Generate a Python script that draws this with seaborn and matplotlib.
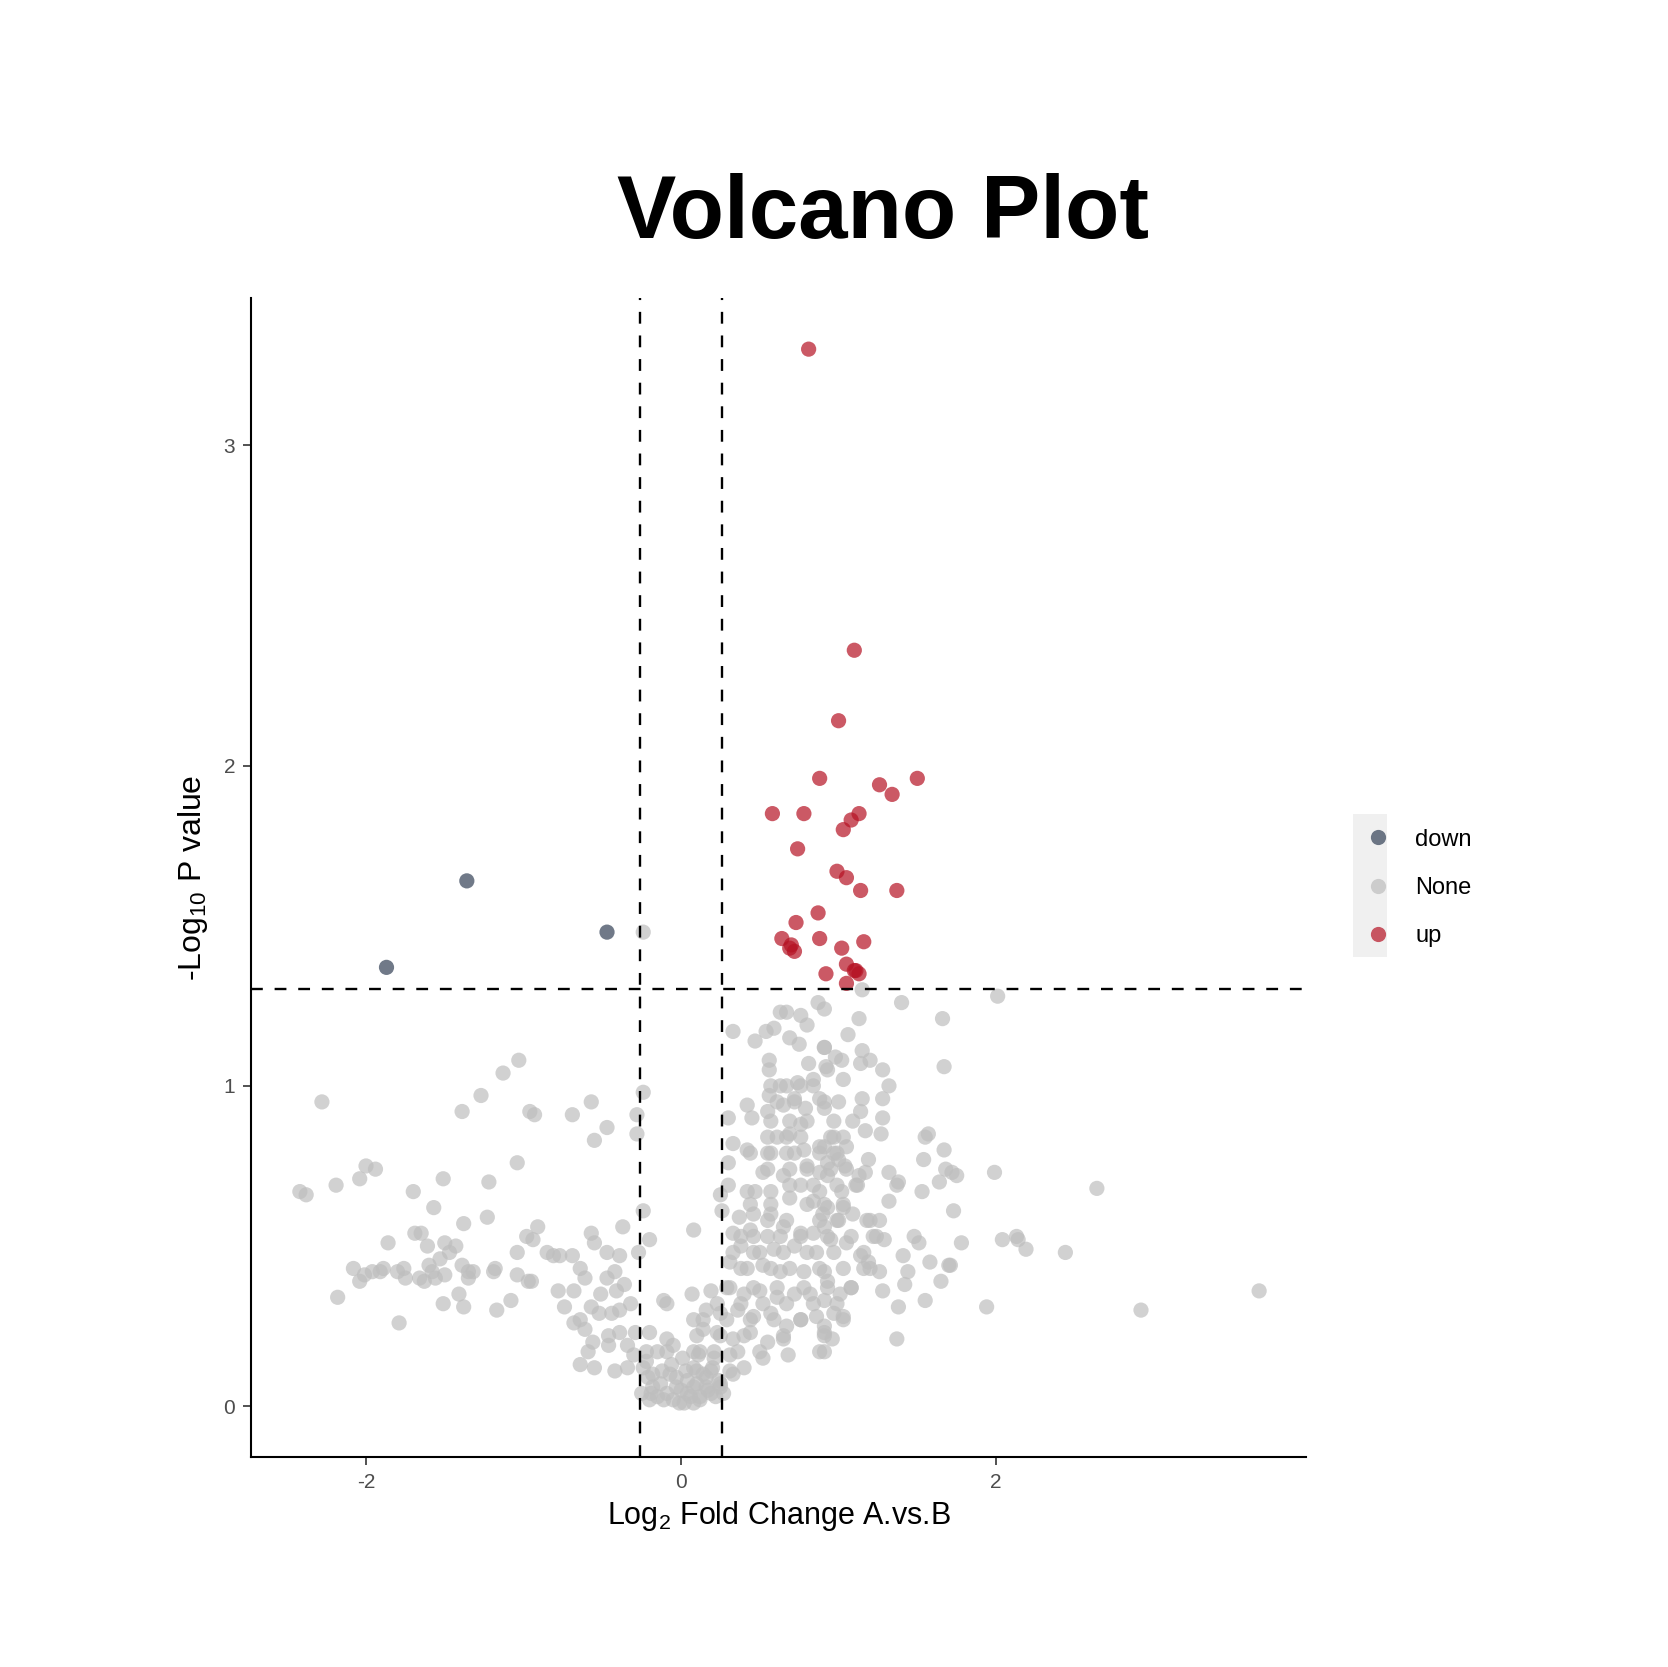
import matplotlib
matplotlib.use("Agg")
import matplotlib.pyplot as plt
import seaborn as sns
import pandas as pd
from matplotlib.patches import Rectangle

# ---------------------------------------------------------------
# Datos (log2 fold change, -log10 p)
# ---------------------------------------------------------------
up_fc = [0.81, 1.10, 1.00, 0.88, 1.26, 1.34, 1.50, 0.58, 0.78, 1.13, 1.08, 1.03,
         0.74, 0.99, 1.05, 1.14, 1.37, 0.87, 0.73, 0.64, 0.70, 0.72, 0.69, 0.88,
         1.02, 1.16, 1.05, 0.92, 1.10, 1.13, 1.11, 1.05]
up_p = [3.30, 2.36, 2.14, 1.96, 1.94, 1.91, 1.96, 1.85, 1.85, 1.85, 1.83, 1.80,
        1.74, 1.67, 1.65, 1.61, 1.61, 1.54, 1.51, 1.46, 1.44, 1.42, 1.43, 1.46,
        1.43, 1.45, 1.38, 1.35, 1.36, 1.35, 1.36, 1.32]

down_fc = [-1.87, -1.36, -0.47]
down_p = [1.37, 1.64, 1.48]

# brazo izquierdo
left_fc = [-2.28, -1.03, -1.13, -1.27, -1.39, -2.00, -1.94, -2.04, -2.19, -2.42,
           -2.38, -1.70, -1.51, -1.22, -1.04, -1.57, -1.38, -1.23, -1.69, -1.65,
           -1.86, -1.61, -1.50, -1.43, -1.53, -1.47, -2.08, -2.04, -2.01, -1.96,
           -1.91, -1.89, -1.80, -1.76, -1.75, -1.66, -1.63, -1.60, -1.58, -1.56,
           -1.50, -1.39, -1.35, -1.32, -1.35, -1.18, -1.19, -1.04, -1.04, -0.98,
           -0.97, -2.18, -1.51, -1.41, -1.38, -1.17, -1.08, -1.79, -0.96]
left_p = [0.95, 1.08, 1.04, 0.97, 0.92, 0.75, 0.74, 0.71, 0.69, 0.67,
          0.66, 0.67, 0.71, 0.70, 0.76, 0.62, 0.57, 0.59, 0.54, 0.54,
          0.51, 0.50, 0.51, 0.50, 0.46, 0.48, 0.43, 0.39, 0.41, 0.42,
          0.42, 0.43, 0.42, 0.43, 0.40, 0.40, 0.39, 0.44, 0.42, 0.40,
          0.41, 0.44, 0.42, 0.42, 0.40, 0.43, 0.42, 0.41, 0.48, 0.53,
          0.39, 0.34, 0.32, 0.35, 0.31, 0.30, 0.33, 0.26, 0.92]

# zona cercana a cero (izquierda)
mid_fc = [-0.24, -0.93, -0.69, -0.57, -0.47, -0.55, -0.28, -0.28, -0.24, -0.91,
          -0.94, -0.57, -0.55, -0.37, -0.20, -0.27, -0.47, -0.39, -0.85, -0.81,
          -0.77, -0.69, -0.95, -0.64, -0.61, -0.47, -0.42, -0.36, -0.78, -0.68,
          -0.51, -0.41, -0.74, -0.57, -0.52, -0.44, -0.39, -0.32, -0.68, -0.64,
          -0.61, -0.56, -0.46, -0.46, -0.39, -0.34, -0.29, -0.30, -0.59, -0.64,
          -0.55, -0.42, -0.34, -0.11, -0.09, 0.07, 0.08, 0.08, -0.20, -0.09,
          -0.05, -0.22, -0.24, -0.25, -0.24,
          -0.18, -0.13, -0.09, -0.05, -0.01, 0.02, 0.06, 0.10, 0.04, -0.03,
          -0.18, -0.21, -0.07, 0.08, -0.15, -0.11, -0.19, 0.08, -0.03, 0.04,
          -0.09]
mid_p = [0.98, 0.91, 0.91, 0.95, 0.87, 0.83, 0.91, 0.85, 0.61, 0.56,
         0.52, 0.54, 0.51, 0.56, 0.52, 0.48, 0.48, 0.47, 0.48, 0.47,
         0.47, 0.47, 0.39, 0.43, 0.40, 0.40, 0.42, 0.38, 0.36, 0.36,
         0.35, 0.36, 0.31, 0.31, 0.29, 0.29, 0.30, 0.32, 0.26, 0.27,
         0.24, 0.20, 0.22, 0.19, 0.23, 0.19, 0.23, 0.16, 0.17, 0.13,
         0.12, 0.11, 0.12, 0.33, 0.32, 0.35, 0.55, 0.27, 0.23, 0.21,
         0.19, 0.17, 0.12, 0.04, 1.48,
         0.10, 0.07, 0.04, 0.02, 0.01, 0.01, 0.03, 0.07, 0.08, 0.06,
         0.06, 0.09, 0.10, 0.12, 0.17, 0.02, 0.04, 0.01, 0.09, 0.04,
         0.17]

# fondo del embudo (alrededor de 0)
base_fc = [-0.20, -0.15, -0.12, 0.00, 0.03, 0.12, 0.14, 0.17, 0.20, 0.22,
           0.24, -0.06, 0.01, 0.11, -0.22]
base_p = [0.02, 0.03, 0.11, 0.05, 0.11, 0.03, 0.10, 0.05, 0.12, 0.03,
          0.08, 0.13, 0.15, 0.16, 0.14]

# nucleo (0.1 a 0.95)
core_fc = [0.33, 0.47, 0.54, 0.59, 0.63, 0.67, 0.76, 0.80, 0.87, 0.69,
           0.75, 0.56, 0.56, 0.81, 0.91, 0.92, 0.63, 0.74, 0.84, 0.56,
           0.42, 0.45, 0.55, 0.65, 0.72, 0.79, 0.88, 0.30, 0.33, 0.42,
           0.30, 0.55, 0.61, 0.69, 0.76, 0.67, 0.78, 0.52, 0.65, 0.80,
           0.88, 0.93, 0.30, 0.42, 0.47, 0.57, 0.25, 0.26, 0.37, 0.46,
           0.57, 0.69, 0.76, 0.84, 0.90, 0.33, 0.44, 0.55, 0.65, 0.76,
           0.84, 0.38, 0.46, 0.59, 0.72, 0.78, 0.31, 0.42, 0.52, 0.63,
           0.86, 0.91, 0.19, 0.29, 0.40, 0.50, 0.61, 0.72, 0.82, 0.16,
           0.25, 0.36, 0.46, 0.57, 0.67, 0.76, 0.86, 0.91, 0.14, 0.23,
           0.33, 0.44, 0.55, 0.65, 0.68, 0.52, 0.88, 0.12, 0.21, 0.31,
           0.40, 0.16, 0.25, 0.33, 0.19, 0.27, 0.12]
core_p = [1.17, 1.14, 1.17, 1.18, 1.23, 1.23, 1.22, 1.19, 1.26, 1.15,
          1.13, 1.08, 1.05, 1.07, 1.12, 1.06, 1.00, 1.01, 1.02, 0.97,
          0.94, 0.90, 0.92, 0.94, 0.96, 0.93, 0.96, 0.90, 0.82, 0.80,
          0.76, 0.79, 0.84, 0.85, 0.88, 0.79, 0.80, 0.73, 0.72, 0.75,
          0.81, 0.72, 0.69, 0.67, 0.67, 0.67, 0.66, 0.61, 0.59, 0.60,
          0.60, 0.65, 0.69, 0.64, 0.60, 0.54, 0.55, 0.53, 0.56, 0.54,
          0.54, 0.50, 0.48, 0.49, 0.50, 0.42, 0.45, 0.43, 0.44, 0.42,
          0.48, 0.42, 0.36, 0.37, 0.35, 0.36, 0.34, 0.35, 0.35, 0.30,
          0.29, 0.30, 0.28, 0.29, 0.25, 0.27, 0.28, 0.23, 0.24, 0.23,
          0.21, 0.23, 0.20, 0.21, 0.16, 0.15, 0.17, 0.17, 0.15, 0.16,
          0.12, 0.09, 0.07, 0.10, 0.04, 0.04, 0.02]

# banda densa del nucleo
band_fc = [0.57, 0.67, 0.76, 0.84,
           0.61, 0.72, 0.91,
           0.57, 0.69, 0.80, 0.97,
           0.55, 0.67, 0.76, 0.95, 1.03,
           0.44, 0.57, 0.72, 0.88, 0.99,
           0.55, 0.69, 0.80, 0.95, 1.05,
           0.69, 0.84, 0.99, 1.12,
           0.44, 0.57, 0.80, 0.91, 1.03,
           0.55, 0.67, 0.88, 0.99, 1.18,
           0.38, 0.46, 0.63, 0.76, 0.93, 1.08, 1.24,
           0.33, 0.50, 0.65, 0.80, 0.97, 1.16,
           0.38, 0.57, 0.69, 0.88, 1.03, 1.20,
           0.31, 0.46, 0.61, 0.78, 0.93, 1.08,
           0.23, 0.38, 0.52, 0.67, 0.84, 0.99,
           0.14, 0.29, 0.44, 0.59, 0.76, 1.03,
           0.10, 0.25, 0.40, 0.65, 0.91,
           0.08, 0.21, 0.36, 0.50,
           0.10, 0.19, 0.31,
           0.08, 0.16, 0.25]
band_p = [1.00, 1.00, 1.00, 1.00,
          0.95, 0.95, 0.95,
          0.89, 0.89, 0.89, 0.89,
          0.84, 0.84, 0.84, 0.84, 0.84,
          0.79, 0.79, 0.79, 0.79, 0.79,
          0.74, 0.74, 0.74, 0.74, 0.74,
          0.69, 0.69, 0.69, 0.69,
          0.63, 0.63, 0.63, 0.63, 0.63,
          0.58, 0.58, 0.58, 0.58, 0.58,
          0.53, 0.53, 0.53, 0.53, 0.53, 0.53, 0.53,
          0.48, 0.48, 0.48, 0.48, 0.48, 0.48,
          0.43, 0.43, 0.43, 0.43, 0.43, 0.43,
          0.37, 0.37, 0.37, 0.37, 0.37, 0.37,
          0.32, 0.32, 0.32, 0.32, 0.32, 0.32,
          0.27, 0.27, 0.27, 0.27, 0.27, 0.27,
          0.22, 0.22, 0.22, 0.22, 0.22,
          0.17, 0.17, 0.17, 0.17,
          0.11, 0.11, 0.11,
          0.06, 0.06, 0.06]

# hombro derecho (0.9 a 1.7)
right_fc = [1.15, 1.40, 1.66, 1.13, 1.06, 0.91, 0.91, 0.98, 1.02, 1.15,
            1.20, 1.14, 1.28, 0.93, 1.03, 1.67, 1.32, 1.15, 1.28, 1.00,
            0.91, 1.14, 1.09, 1.28, 1.17, 1.27, 1.57, 1.55, 0.97, 1.05,
            0.91, 1.00, 1.19, 1.54, 1.67, 1.68, 1.64, 0.93, 1.17, 1.13,
            1.32, 1.38, 1.37, 1.53, 1.02, 1.11, 0.88, 1.32, 0.93, 1.03,
            1.09, 1.20, 1.26, 1.00, 0.91, 1.22, 1.29, 1.48, 1.51, 0.95,
            1.05, 1.41, 1.58, 1.70, 1.14, 1.19, 1.16, 1.26, 1.44, 1.42,
            1.65, 1.08, 1.01, 0.93, 1.28, 1.55, 1.38, 0.91, 1.03, 0.91,
            1.37, 0.96, 0.91, 0.97, 1.04, 0.97, 0.88]
right_p = [1.30, 1.26, 1.21, 1.21, 1.16, 1.24, 1.12, 1.09, 1.08, 1.11,
           1.08, 1.07, 1.05, 1.05, 1.02, 1.06, 1.00, 0.96, 0.96, 0.95,
           0.93, 0.92, 0.89, 0.90, 0.86, 0.85, 0.85, 0.84, 0.84, 0.81,
           0.81, 0.77, 0.77, 0.77, 0.80, 0.74, 0.70, 0.76, 0.73, 0.72,
           0.73, 0.70, 0.69, 0.67, 0.67, 0.69, 0.67, 0.64, 0.62, 0.62,
           0.60, 0.58, 0.58, 0.58, 0.56, 0.53, 0.52, 0.53, 0.51, 0.52,
           0.51, 0.47, 0.45, 0.44, 0.47, 0.45, 0.43, 0.42, 0.42, 0.38,
           0.39, 0.37, 0.35, 0.39, 0.36, 0.33, 0.31, 0.33, 0.28, 0.25,
           0.21, 0.21, 0.17, 0.29, 0.75, 0.79, 0.73]

# cola derecha
tail_fc = [2.01, 1.75, 1.72, 1.99, 2.64, 1.73, 1.78, 2.04, 2.13, 2.14,
           2.19, 2.44, 1.71, 1.94, 3.67, 2.92]
tail_p = [1.28, 0.72, 0.73, 0.73, 0.68, 0.61, 0.51, 0.52, 0.53, 0.52,
          0.49, 0.48, 0.44, 0.31, 0.36, 0.30]

fc_cut = 0.263   # log2(1.2)
p_cut = 1.301    # -log10(0.05)

# ---------------------------------------------------------------
# DataFrame
# ---------------------------------------------------------------
fc_all = (up_fc + down_fc + left_fc + mid_fc + base_fc + core_fc + band_fc
          + right_fc + tail_fc)
p_all = (up_p + down_p + left_p + mid_p + base_p + core_p + band_p
         + right_p + tail_p)
df = pd.DataFrame({'log2fc': fc_all, 'logp': p_all})
df['change'] = 'None'
df.loc[(df.log2fc > fc_cut) & (df.logp > p_cut), 'change'] = 'up'
df.loc[(df.log2fc < -fc_cut) & (df.logp > p_cut), 'change'] = 'down'

# ---------------------------------------------------------------
# Grafico
# ---------------------------------------------------------------
sns.set_style('white')
plt.rcParams['font.family'] = ['Liberation Sans', 'DejaVu Sans']
plt.rcParams['mathtext.fontset'] = 'custom'
plt.rcParams['mathtext.rm'] = 'Liberation Sans'
plt.rcParams['mathtext.it'] = 'Liberation Sans:italic'
plt.rcParams['mathtext.bf'] = 'Liberation Sans:bold'
plt.rcParams['axes.unicode_minus'] = False
plt.rcParams['text.color'] = 'black'
plt.rcParams['axes.labelcolor'] = 'black'

fig = plt.figure(figsize=(16.68, 16.67), dpi=100)
ax = fig.add_axes([0.1505, 0.1257, 0.6327, 0.6956])
ax.set_facecolor('none')

paleta = {'down': '#334156', 'None': '#BEBEBE', 'up': '#B61324'}

sns.scatterplot(data=df, x='log2fc', y='logp', hue='change',
                hue_order=['down', 'None', 'up'], palette=paleta,
                s=120, alpha=0.7, linewidth=0, ax=ax)

# lineas de corte
ax.axvline(-fc_cut, color='black', lw=1.7, ls=(0, (5, 5)))
ax.axvline(fc_cut, color='black', lw=1.7, ls=(0, (5, 5)))
ax.axhline(p_cut, color='black', lw=1.7, ls=(0, (5, 5)))

ax.set_xlim(-2.73, 3.97)
ax.set_ylim(-0.16, 3.46)
ax.set_xticks([-2, 0, 2])
ax.set_yticks([0, 1, 2, 3])

for lado in ['top', 'right']:
    ax.spines[lado].set_visible(False)
for lado in ['left', 'bottom']:
    ax.spines[lado].set_color('black')
    ax.spines[lado].set_linewidth(1.5)

ax.tick_params(axis='both', length=5.5, width=1.2, color='#333333',
               labelsize=15, labelcolor='#4D4D4D', pad=6,
               left=True, bottom=True)

ax.set_xlabel('Log$_2$ Fold Change A.vs.B', fontsize=22)
ax.set_ylabel('-Log$_{10}$ P value', fontsize=23)
ax.xaxis.set_label_coords(0.5, -0.0505)
ax.xaxis.label.set_va('center')
ax.yaxis.set_label_coords(-0.0554, 0.5)
ax.yaxis.label.set_va('center')

fig.text(883 / 1668, 1 - 215 / 1667, 'Volcano Plot', ha='center', va='center',
         fontsize=64, fontweight='bold', color='black')

# leyenda
sns.move_legend(ax, 'center left', bbox_to_anchor=(1365.8 / 1668, 1 - 888 / 1667),
                bbox_transform=fig.transFigure, title=None, frameon=False,
                fontsize=17, borderpad=0, borderaxespad=0, handlelength=1.0,
                handletextpad=1.1, labelspacing=1.12)
fig.patches.append(Rectangle((1353 / 1668, 1 - 957 / 1667), 34 / 1668, 143 / 1667,
                             transform=fig.transFigure, facecolor='#F0F0F0',
                             edgecolor='none', zorder=-1))

fig.savefig('out.png', dpi=100)
